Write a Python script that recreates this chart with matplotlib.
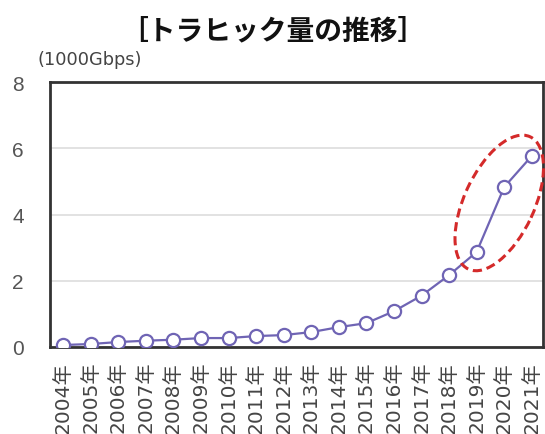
import matplotlib
matplotlib.use("Agg")
import matplotlib.pyplot as plt
import matplotlib.transforms as mtransforms
from matplotlib.patches import Ellipse

plt.rcParams['font.family'] = ['Noto Sans CJK JP', 'DejaVu Sans']

years = ["2004年", "2005年", "2006年", "2007年", "2008年", "2009年", "2010年",
         "2011年", "2012年", "2013年", "2014年", "2015年", "2016年", "2017年",
         "2018年", "2019年", "2020年", "2021年"]
traffic = [0.06, 0.09, 0.15, 0.19, 0.22, 0.27, 0.27, 0.33, 0.36, 0.45,
           0.60, 0.72, 1.08, 1.55, 2.17, 2.87, 4.83, 5.77]
y_ticks = [0, 2, 4, 6, 8]

fig = plt.figure(figsize=(5.45, 4.35), dpi=100)
ax = fig.add_axes([0.092, 0.2, 0.904, 0.609])

x = list(range(len(years)))
line_color = "#6f64b4"
ax.plot(x, traffic, color=line_color, lw=1.6, marker="o", markersize=9.5,
        markerfacecolor="white", markeredgecolor=line_color,
        markeredgewidth=1.6, zorder=3)

ax.set_xlim(-0.47, len(years) - 1 + 0.4)
ax.set_ylim(0, 8)
ax.set_yticks(y_ticks)
ax.set_yticklabels([str(v) for v in y_ticks], family=['Liberation Sans'],
                   fontsize=15, color="#555555")
ax.set_xticks(x)
ax.set_xticklabels(years, rotation=90, fontsize=14.5, color="#454545",
                   family=['DejaVu Sans', 'Noto Sans CJK JP'])
ax.tick_params(axis="y", length=0, pad=19)
ax.tick_params(axis="x", length=0, pad=10)
ax.grid(axis="y", color="#dddddd", lw=1.2)
ax.set_axisbelow(True)
for s in ax.spines.values():
    s.set_color("#333333")
    s.set_linewidth(2)

# dashed highlight around the last years
trans = fig.dpi_scale_trans + mtransforms.ScaledTranslation(15.82, 4.35, ax.transData)
ell = Ellipse((0, 0), width=1.46, height=0.70, angle=65, transform=trans,
              fill=False, edgecolor="#d42a2a", lw=2.2, linestyle=(0, (3, 1.6)),
              zorder=4, clip_on=False)
ax.add_patch(ell)

fig.text(0.5, 0.928, "［トラヒック量の推移］", ha="center", va="center",
         fontsize=20, fontweight="bold", color="#111111")
fig.text(0.068, 0.862, "(1000Gbps)", ha="left", va="center",
         fontsize=12.8, color="#444444", family=['DejaVu Sans'])

fig.savefig("out.png", dpi=100)
